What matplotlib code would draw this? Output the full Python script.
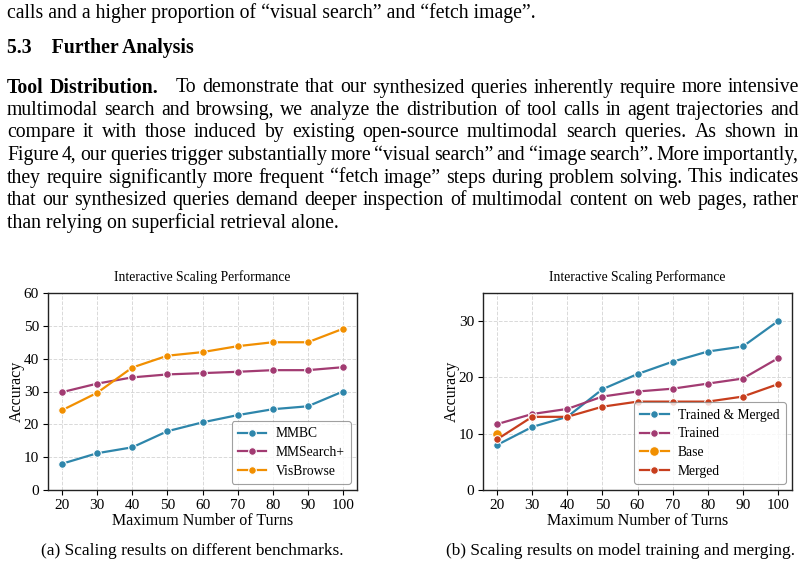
import matplotlib
matplotlib.use("Agg")
import matplotlib.pyplot as plt
from matplotlib.ticker import MultipleLocator

plt.rcParams['font.family'] = ['Liberation Serif', 'DejaVu Serif']
plt.rcParams['mathtext.fontset'] = 'stix'

# ---------------- data ----------------
turns = [20, 30, 40, 50, 60, 70, 80, 90, 100]
mmbc = [8.0, 11.2, 13.0, 17.9, 20.6, 22.8, 24.6, 25.5, 30.0]
mmsearch = [29.8, 32.4, 34.3, 35.2, 35.6, 36.0, 36.5, 36.5, 37.4]
visbrowse = [24.3, 29.6, 37.3, 40.9, 42.0, 43.8, 45.0, 45.0, 49.1]

trained_merged = [8.0, 11.2, 13.0, 17.9, 20.6, 22.8, 24.6, 25.5, 30.0]
trained = [11.7, 13.5, 14.4, 16.6, 17.5, 18.0, 18.9, 19.8, 23.4]
base_turns = [20]
base = [9.9]
merged = [9.0, 13.0, 13.0, 14.8, 15.7, 15.7, 15.7, 16.6, 18.8]

left_series = ["MMBC", "MMSearch+", "VisBrowse"]
right_series = ["Trained & Merged", "Trained", "Base", "Merged"]

title = "Interactive Scaling Performance"
xlabel = "Maximum Number of Turns"
ylabel = "Accuracy"
caption_a = "(a) Scaling results on different benchmarks."
caption_b = "(b) Scaling results on model training and merging."

line_top = "calls and a higher proportion of \u201cvisual search\u201d and \u201cfetch image\u201d."
heading = "5.3    Further Analysis"
para_lines = [
    "To demonstrate that our synthesized queries inherently require more intensive",
    "multimodal search and browsing, we analyze the distribution of tool calls in agent trajectories and",
    "compare it with those induced by existing open-source multimodal search queries.  As shown in",
    "Figure 4, our queries trigger substantially more \u201cvisual search\u201d and \u201cimage search\u201d. More importantly,",
    "they require significantly more frequent \u201cfetch image\u201d steps during problem solving. This indicates",
    "that our synthesized queries demand deeper inspection of multimodal content on web pages, rather",
]
para_last = "than relying on superficial retrieval alone."

c_blue = "#2E86AB"
c_purple = "#A23B72"
c_orange = "#F18F01"
c_red = "#C73E1D"

W, H = 806, 567
fig = plt.figure(figsize=(W / 100, H / 100), dpi=100)
renderer = fig.canvas.get_renderer()

def fx(px):
    return px / W

def fy(py):
    return 1 - py / H

body_fs = 14.2

# ---------------- body text ----------------
X0, X1 = 7, 799

fig.text(fx(X0), fy(13), line_top, fontsize=body_fs, va='center', ha='left')
fig.text(fx(X0), fy(48), heading, fontsize=body_fs, fontweight='bold', va='center', ha='left')

def justify(words, y, x0=X0, x1=X1):
    objs = []
    widths = []
    for w, weight, _ in words:
        t = fig.text(0, fy(y), w, fontsize=body_fs, fontweight=weight, va='center', ha='left')
        bb = t.get_window_extent(renderer)
        objs.append(t)
        widths.append(bb.width)
    extra = sum(e for _, _, e in words)
    n_gaps = len(words) - 1
    gap = (x1 - x0 - sum(widths) - extra) / n_gaps
    x = x0
    for t, wd, (_, _, e) in zip(objs, widths, words):
        t.set_x(fx(x))
        x += wd + gap + e

ys = [88, 110.5, 133, 155.5, 178, 200.5]
for i, (ln, y) in enumerate(zip(para_lines, ys)):
    words = [(w, 'normal', 0) for w in ln.split()]
    if i == 0:
        words = [("Tool", 'bold', 0), ("Distribution.", 'bold', 12)] + words
    justify(words, y)
fig.text(fx(X0), fy(223), para_last, fontsize=body_fs, va='center', ha='left')

# ---------------- charts ----------------
ax1 = fig.add_axes([fx(48), fy(490), fx(357 - 48), (490 - 293) / H])
ax2 = fig.add_axes([fx(483), fy(490), fx(792 - 483), (490 - 293) / H])

mk = dict(marker='o', markersize=5.5, markeredgecolor='white', markeredgewidth=0.8, linewidth=1.6)

ax1.plot(turns, mmbc, color=c_blue, label=left_series[0], **mk)
ax1.plot(turns, mmsearch, color=c_purple, label=left_series[1], **mk)
ax1.plot(turns, visbrowse, color=c_orange, label=left_series[2], **mk)
ax1.set_ylim(0, 60)
ax1.yaxis.set_major_locator(MultipleLocator(10))

ax2.plot(turns, trained_merged, color=c_blue, label=right_series[0], **mk)
ax2.plot(turns, trained, color=c_purple, label=right_series[1], **mk)
ax2.plot(base_turns, base, color=c_orange, label=right_series[2],
         marker='o', markersize=7, markeredgecolor='white', markeredgewidth=0.8, linewidth=1.6)
ax2.plot(turns, merged, color=c_red, label=right_series[3], **mk)
ax2.set_ylim(0, 35)
ax2.yaxis.set_major_locator(MultipleLocator(10))

for ax in (ax1, ax2):
    ax.set_xlim(16, 104)
    ax.set_xticks(turns)
    ax.grid(True, linestyle='--', color='#d0d0d0', linewidth=0.7, alpha=0.8)
    ax.set_axisbelow(True)
    for s in ax.spines.values():
        s.set_color('#222222')
        s.set_linewidth(1.0)
    ax.tick_params(labelsize=11, length=3.5, width=0.8, pad=3)
    ax.set_title(title, fontsize=9.8, pad=9)
    ax.set_xlabel(xlabel, fontsize=11.5, labelpad=1)
    ax.set_ylabel(ylabel, fontsize=11.5, labelpad=-1)
    leg = ax.legend(loc='lower right', fontsize=9.8, frameon=True, fancybox=True,
                    handlelength=2.1, borderpad=0.45, labelspacing=0.42, handletextpad=0.7,
                    borderaxespad=0.45)
    leg.get_frame().set_edgecolor('#888888')
    leg.get_frame().set_linewidth(0.8)

fig.text(fx(192), fy(551), caption_a, fontsize=body_fs - 1.8, ha='center', va='center')
fig.text(fx(620), fy(551), caption_b, fontsize=body_fs - 1.8, ha='center', va='center')

fig.savefig("out.png", dpi=100)
